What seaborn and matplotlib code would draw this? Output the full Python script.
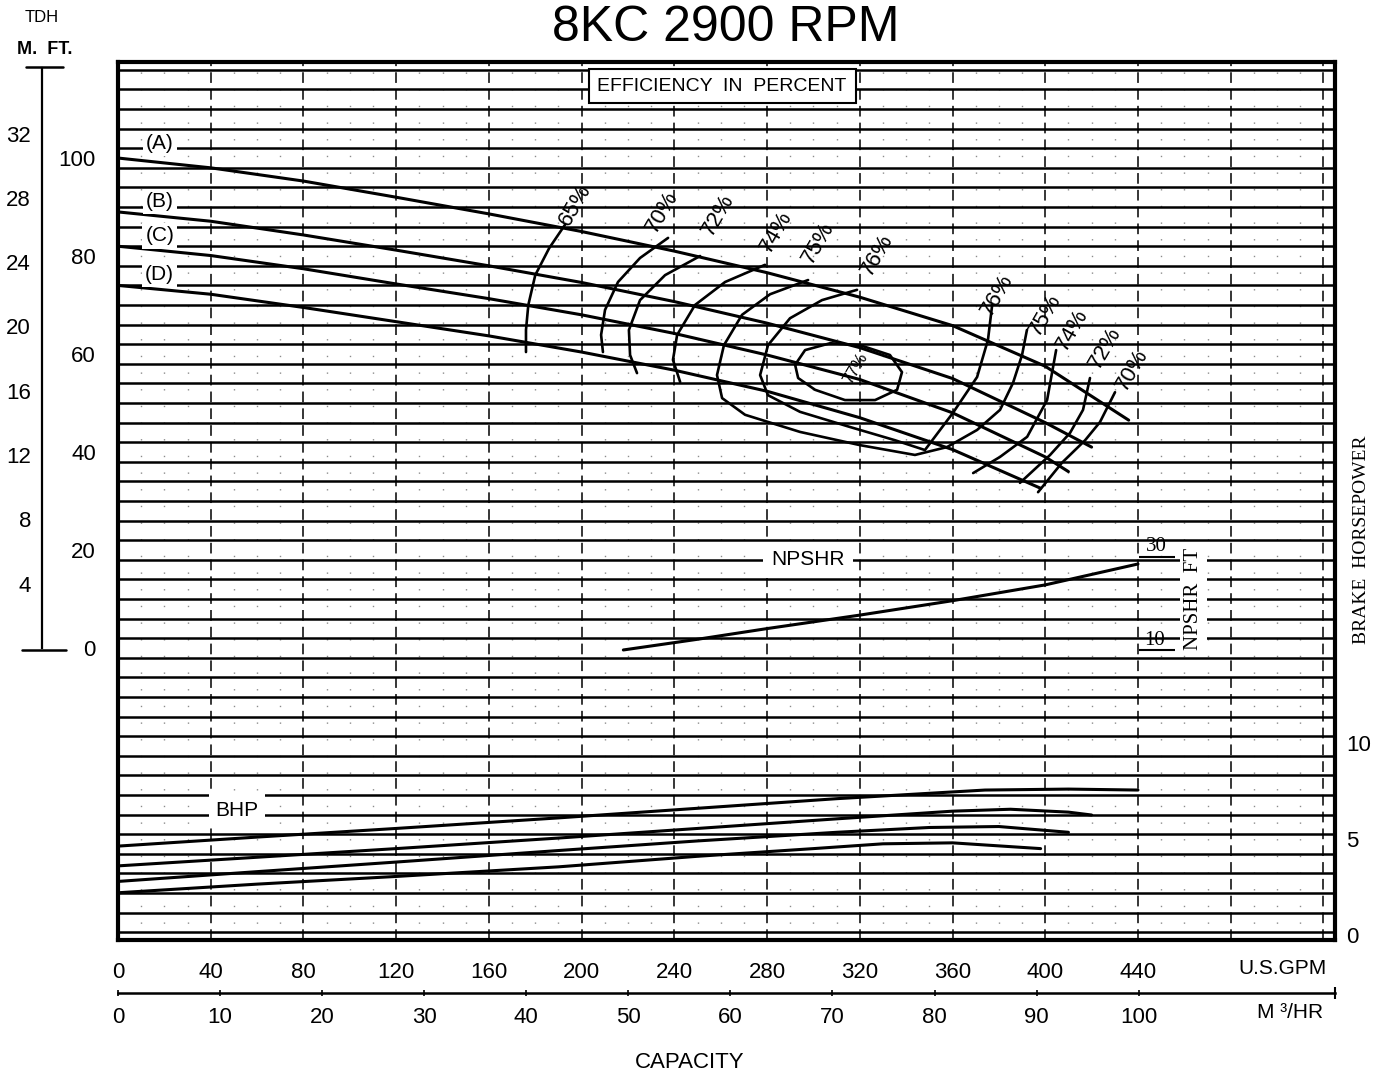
import numpy as np
import seaborn as sns
import matplotlib.pyplot as plt
from matplotlib.lines import Line2D

# ---- head curves, capacity in US GPM, head in ft ----
gpm_a = [0, 40, 80, 120, 160, 200, 240, 280, 320, 360, 400, 436]
head_a = [100, 98, 95.3, 92, 88.6, 85, 81, 76.6, 71.6, 65.8, 57.5, 46.5]
gpm_b = [0, 40, 80, 120, 160, 200, 240, 280, 320, 360, 400, 420]
head_b = [89, 87.1, 84.3, 81.2, 78, 74.6, 70.7, 66.3, 61.3, 55, 46, 41]
gpm_c = [0, 40, 80, 120, 160, 200, 240, 280, 320, 360, 400, 410]
head_c = [82, 80.1, 77.4, 74.3, 71.3, 68, 64.2, 59.8, 54.8, 48, 39, 36]
gpm_d = [0, 40, 80, 120, 160, 200, 240, 280, 320, 360, 398]
head_d = [74, 72.2, 69.5, 66.6, 63.7, 60.4, 56.7, 52.4, 47, 40.5, 32.6]

# ---- brake horsepower ----
bhp_gpm_a = [0, 60, 120, 190, 250, 310, 374, 410, 440]
bhp_a = [4.63, 5.1, 5.55, 6.1, 6.6, 7.1, 7.55, 7.6, 7.55]
bhp_gpm_b = [0, 60, 120, 190, 250, 310, 360, 385, 410, 420]
bhp_b = [3.6, 4.05, 4.5, 5.05, 5.55, 6.05, 6.45, 6.55, 6.4, 6.25]
bhp_gpm_c = [0, 60, 120, 190, 250, 310, 350, 380, 410]
bhp_c = [2.79, 3.3, 3.8, 4.4, 4.9, 5.35, 5.6, 5.65, 5.35]
bhp_gpm_d = [0, 60, 120, 190, 250, 300, 330, 360, 398]
bhp_d = [2.2, 2.65, 3.05, 3.55, 4.1, 4.5, 4.75, 4.8, 4.5]

# ---- NPSHR (ft) ----
npsh_gpm = [218, 250, 280, 320, 360, 400, 440]
npsh_ft = [10, 12.3, 14.6, 17.5, 20.6, 24, 28.5]

# ---- efficiency contours (GPM, ft) ----
eff65_q = [193, 186, 180, 177, 176, 176]
eff65_h = [86.5, 81.6, 76.1, 70, 64.9, 60.4]
eff70_q = [237.3, 225.2, 215.7, 210.1, 208.4, 209.2]
eff70_h = [83.7, 79.6, 74.7, 69.0, 63.9, 60.4]
eff70r_q = [430.1, 423.6, 417.2, 407.2, 396.9]
eff70r_h = [52.2, 46.1, 42.4, 37.8, 31.8]
eff72_q = [251.1, 236.0, 225.2, 220.4, 220.9, 223.9]
eff72_h = [80.0, 76.1, 71.0, 64.9, 59.8, 56.1]
eff72r_q = [419.3, 416.3, 410.7, 402.1, 389.1]
eff72r_h = [55.1, 48.6, 43.9, 39.4, 33.7]
eff74_q = [279.1, 261.9, 248.9, 241.2, 239.4, 242.5]
eff74_h = [78.2, 74.7, 70.0, 63.9, 58.8, 54.3]
eff74r_q = [404.7, 400.8, 392.2, 380.5, 368.9]
eff74r_h = [60.8, 50.6, 43.1, 39.0, 35.7]
eff75_q = [297.7, 281.3, 269.2, 261.4, 258.4, 260.6, 270.5, 294.2, 320.1,
           343.8, 357.6, 370.6, 380.5, 386.1, 390.0, 392.1]
eff75_h = [75.1, 72.2, 68.0, 61.8, 55.7, 51.0, 47.6, 44.1, 41.4,
           39.4, 41.0, 44.5, 48.6, 54.1, 59.8, 64.9]
eff76_q = [318.8, 303.7, 289.9, 280.4, 277.0, 280.4, 294.2, 315.8, 335.2,
           348.1, 360.2, 370.6, 375.3, 377.1]
eff76_h = [73.1, 71.0, 67.3, 61.8, 55.7, 51.6, 48.2, 45.1, 42.4,
           40.4, 48.0, 55.3, 62.9, 70.0]
eff77_q = [292.1, 296.4, 307.2, 320.1, 333.0, 338.2, 336.1, 326.6, 313.6,
           300.7, 293.4, 292.1]
eff77_h = [57.8, 60.8, 62.2, 61.8, 59.8, 56.3, 52.7, 50.6, 50.6,
           52.7, 55.1, 57.8]

gpm_ticks = [0, 40, 80, 120, 160, 200, 240, 280, 320, 360, 400, 440]
m3h_ticks = [0, 10, 20, 30, 40, 50, 60, 70, 80, 90, 100]
ft_ticks = [0, 20, 40, 60, 80, 100]
m_ticks = [4, 8, 12, 16, 20, 24, 28, 32]
bhp_ticks = [0, 5, 10]

sns.set_theme(style="white")
plt.rcParams['font.family'] = ['Liberation Sans', 'DejaVu Sans']
plt.rcParams['text.color'] = 'black'
plt.rcParams['xtick.color'] = 'black'
plt.rcParams['ytick.color'] = 'black'

W, H = 1381, 1076
L, R, T, B = 118, 1335, 62, 940
fig = plt.figure(figsize=(W / 100, H / 100), dpi=100)
ax = fig.add_axes([L / W, 1 - B / H, (R - L) / W, (B - T) / H])
axb = ax.twinx()
axn = ax.twinx()


def curve(a, x, y, lw=2.0):
    sns.lineplot(x=x, y=y, ax=a, color="black", linewidth=lw,
                 sort=False, estimator=None, legend=False)


for q, h in [(gpm_a, head_a), (gpm_b, head_b), (gpm_c, head_c), (gpm_d, head_d)]:
    curve(ax, q, h, 2.2)

for q, h in [(eff65_q, eff65_h), (eff70_q, eff70_h), (eff70r_q, eff70r_h),
             (eff72_q, eff72_h), (eff72r_q, eff72r_h), (eff74_q, eff74_h),
             (eff74r_q, eff74r_h), (eff75_q, eff75_h), (eff76_q, eff76_h),
             (eff77_q, eff77_h)]:
    curve(ax, q, h, 1.9)

for q, p in [(bhp_gpm_a, bhp_a), (bhp_gpm_b, bhp_b), (bhp_gpm_c, bhp_c), (bhp_gpm_d, bhp_d)]:
    curve(axb, q, p, 2.2)

curve(axn, npsh_gpm, npsh_ft, 2.2)

# limits
ax.set_xlim(0, 525)
ax.set_ylim(-59.6, 119.6)
axb.set_ylim(-0.26, 45.47)
axn.set_ylim(-52.4, 136.5)

# grid
ax.set_xticks(list(range(0, 521, 40)))
ax.set_xticklabels([str(v) if v in gpm_ticks else "" for v in range(0, 521, 40)])
ax.set_xticks(list(range(0, 525, 10)), minor=True)
ax.set_yticks(ft_ticks)
ax.set_yticks(list(range(-58, 119, 4)), minor=True)
ax.xaxis.grid(True, which="major", color="black", linestyle=(0, (7, 4)), linewidth=1.1)
ax.xaxis.grid(True, which="minor", color="black", linestyle=(0, (1, 11)), linewidth=1.0, alpha=0.45)
ax.yaxis.grid(True, which="minor", color="black", linestyle="-", linewidth=1.8)
ax.yaxis.grid(False, which="major")
ax.tick_params(which="both", length=0)
ax.tick_params(axis="x", pad=16, labelsize=16, colors="black")
ax.tick_params(axis="y", pad=16, labelsize=16, colors="black")
ax.set_xlabel("")
ax.set_ylabel("")
for s in ax.spines.values():
    s.set_linewidth(3)
    s.set_color("black")

axb.set_yticks(bhp_ticks)
axb.tick_params(length=0, pad=8, labelsize=16, colors="black")
axb.set_ylabel("")
axn.set_yticks([])
axn.set_ylabel("")
for a in (axb, axn):
    for s in a.spines.values():
        s.set_visible(False)

# second capacity scale, m3/hr
sec = ax.secondary_xaxis(-(993 - B) / (B - T),
                         functions=(lambda g: g / 4.4029, lambda m: m * 4.4029))
sec.set_xticks(m3h_ticks)
sec.set_xticks([0, 525 / 4.4029], minor=True)
sec.tick_params(length=4, width=1.2, direction="inout", pad=8, labelsize=16, colors="black")
sec.tick_params(which="minor", length=9, width=1.5, direction="inout")
sec.spines["bottom"].set_linewidth(1.8)
sec.spines["bottom"].set_color("black")

# meter scale on the far left
axm = fig.add_axes([42 / W, 1 - B / H, 0.0005, (B - T) / H])
axm.set_ylim(-59.6 / 3.2808, 119.6 / 3.2808)
axm.set_facecolor("none")
axm.set_xticks([])
axm.set_yticks(m_ticks)
axm.tick_params(axis="y", length=5, width=1.5, direction="out", pad=3,
                labelsize=16, colors="black")
for k, s in axm.spines.items():
    s.set_visible(k == "left")
axm.spines["left"].set_linewidth(1.6)
axm.spines["left"].set_color("black")
axm.spines["left"].set_bounds(0, 36.1)
fig.add_artist(Line2D([26 / W, 63 / W], [1 - 67 / H, 1 - 67 / H], color="black", lw=1.8))
fig.add_artist(Line2D([22 / W, 66 / W], [1 - 650 / H, 1 - 650 / H], color="black", lw=1.8))
fig.text(42 / W, 1 - 18 / H, "TDH", ha="center", va="center", fontsize=12)
fig.text(45 / W, 1 - 50 / H, "M.  FT.", ha="center", va="center", fontsize=13, fontweight="bold")

# annotations
box = dict(boxstyle="square,pad=0.15", fc="white", ec="none")
for lab, hh in [("(A)", 103), ("(B)", 91.2), ("(C)", 84.1), ("(D)", 76.3)]:
    ax.text(18, hh, lab, ha="center", va="center", fontsize=15, bbox=box)

ax.text(260.6, 114.7, "EFFICIENCY  IN  PERCENT", ha="center", va="center", fontsize=14,
        bbox=dict(boxstyle="square,pad=0.45", fc="white", ec="black", lw=1.5))
ax.text(297.7, 18, "NPSHR", ha="center", va="center", fontsize=15,
        bbox=dict(boxstyle="square,pad=0.4", fc="white", ec="none"))
ax.text(51.3, -33.1, "BHP", ha="center", va="center", fontsize=15,
        bbox=dict(boxstyle="square,pad=0.3", fc="white", ec="none"))

eff_labels = [("65%", 197.2, 90.4), ("70%", 234.7, 89.0), ("72%", 258.8, 88.4),
              ("74%", 283.9, 84.9), ("75%", 302.0, 82.7), ("76%", 327.4, 80.2),
              ("76%", 379.2, 72.0), ("75%", 399.9, 68.0), ("74%", 411.6, 64.9),
              ("72%", 425.8, 61.2), ("70%", 437.4, 56.7), ("77%", 318.0, 57.0)]
for lab, q, hh in eff_labels:
    ax.text(q, hh, lab, rotation=60, ha="center", va="center",
            fontsize=12 if lab == "77%" else 16)

# NPSHR scale marks
axn.hlines([30, 10], 440.5, 456, color="black", lw=1.5)
axn.text(448, 32.2, "30", ha="center", va="center", fontsize=15, family="Liberation Serif")
axn.text(447, 12.0, "10", ha="center", va="center", fontsize=15, family="Liberation Serif")
axn.text(464, 21.0, "NPSHR  FT", rotation=90, ha="center", va="center", fontsize=15,
         family="Liberation Serif", bbox=dict(boxstyle="square,pad=0.2", fc="white", ec="none"))

fig.text(1362 / W, 1 - 540 / H, "BRAKE  HORSEPOWER", rotation=90, ha="center", va="center",
         fontsize=14, family="Liberation Serif")
fig.text(1282 / W, 1 - 968 / H, "U.S.GPM", ha="center", va="center", fontsize=15)
fig.text(1290 / W, 1 - 1012 / H, "M \u00b3/HR", ha="center", va="center", fontsize=15)
fig.text(690 / W, 1 - 1062 / H, "CAPACITY", ha="center", va="center", fontsize=16)
fig.text(726 / W, 1 - 28 / H, "8KC 2900 RPM", ha="center", va="center", fontsize=36)

fig.savefig("out.png", dpi=100)
